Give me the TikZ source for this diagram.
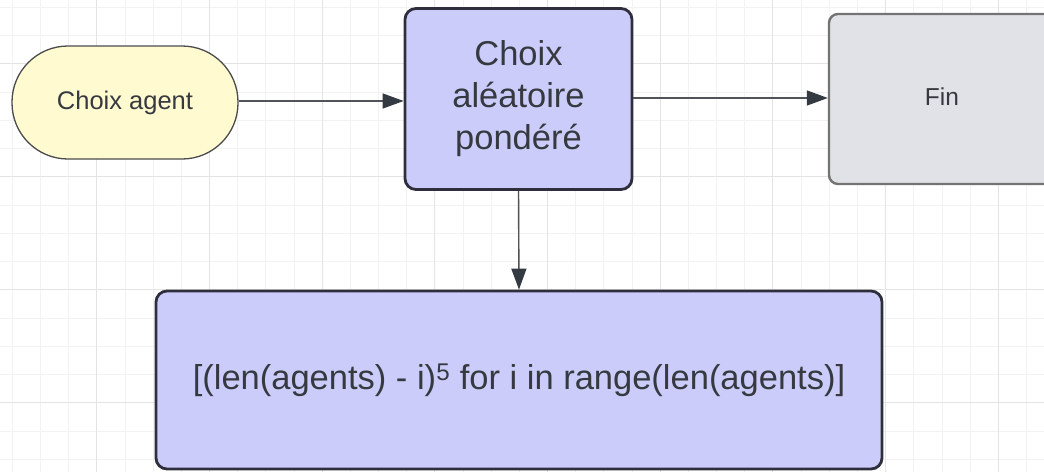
\documentclass[tikz,border=0pt]{standalone}
\usepackage{fontspec}
\setmainfont{Liberation Sans}
\usetikzlibrary{arrows.meta}
\definecolor{gridminor}{HTML}{F2F2F2}
\definecolor{gridmajor}{HTML}{E4E4E4}
\definecolor{yellowfill}{HTML}{FFFAD0}
\definecolor{purplefill}{HTML}{CCCCFA}
\definecolor{greyfill}{HTML}{E0E2E7}
\definecolor{darkline}{HTML}{2E2E3C}
\definecolor{txt}{HTML}{363A40}
\definecolor{conn}{HTML}{505458}
\definecolor{tipc}{HTML}{333A42}
\tikzset{
  base/.style={inner sep=0pt, outer sep=auto, text=txt, align=center},
  startbox/.style={base, draw=black!70, line width=1.3pt, fill=yellowfill,
    minimum width=226pt, minimum height=113pt, rounded corners=56pt,
    font=\fontsize{25.5}{30}\selectfont},
  procbox/.style={base, draw=darkline, line width=2.8pt, fill=purplefill,
    rounded corners=11pt, font=\fontsize{34.5}{42}\selectfont},
  endbox/.style={base, draw=black!55, line width=2.4pt, fill=greyfill,
    minimum width=226pt, minimum height=170pt, rounded corners=9pt,
    font=\fontsize{24.5}{29}\selectfont},
  conn/.style={draw=conn, line width=1.4pt, -{Triangle[length=21pt,width=15pt,color=tipc]}},
}
\begin{document}
\begin{tikzpicture}[x=1pt,y=-1pt]
\useasboundingbox (0,0) rectangle (1044,472);
\clip (0,0) rectangle (1044,472);
\fill[white] (0,0) rectangle (1044,472);
% grid
\foreach \i in {0,...,37} {\draw[gridminor, line width=0.8pt] ({12.3+28.17*\i},0) -- ++(0,472);}
\foreach \j in {0,...,16} {\draw[gridminor, line width=0.8pt] (0,{7.3+28.25*\j}) -- ++(1044,0);}
\foreach \i in {0,...,8} {\draw[gridmajor, line width=0.9pt] ({96.7+112.68*\i},0) -- ++(0,472);}
\foreach \j in {0,...,3} {\draw[gridmajor, line width=0.9pt] (0,{63.8+113*\j}) -- ++(1044,0);}
% nodes
\node[startbox] (agent) at (125,102.5) {Choix agent};
\node[procbox, minimum width=227pt, minimum height=181pt] (mid) at (518.5,99) {\raisebox{1pt}{\parbox{200pt}{\centering Choix\\aléatoire\\pondéré}}};
\node[endbox] (fin) at (942,99) {\raisebox{4pt}{Fin}};
\node[procbox, minimum width=726pt, minimum height=178pt] (form) at (519,380)
  {[(len(agents) - i)\textsuperscript{5} for i in range(len(agents)]};
% connectors
\draw[conn] (agent.east |- 0,101) -- (mid.west |- 0,101);
\draw[conn] (mid.east |- 0,98) -- (fin.west |- 0,98);
\draw[conn] (mid.south) -- (form.north);
\end{tikzpicture}
\end{document}
